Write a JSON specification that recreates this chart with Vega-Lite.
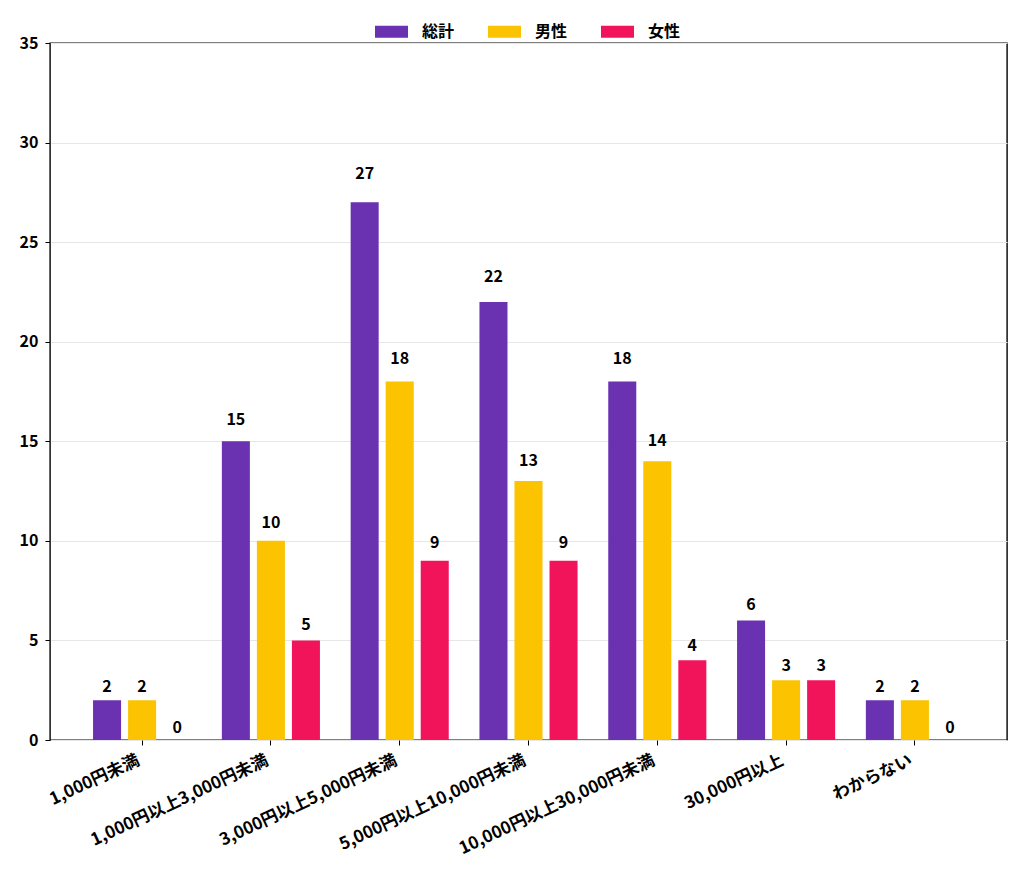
{
  "$schema": "https://vega.github.io/schema/vega-lite/v6.json",
  "width": 957,
  "height": 697,
  "autosize": {"type": "none"},
  "padding": {"left": 50, "top": 43, "right": 18, "bottom": 135},
  "background": "white",
  "config": {
    "font": "Noto Sans CJK JP",
    "view": {"stroke": "black", "strokeWidth": 1.4},
    "axis": {
      "labelFont": "Noto Sans CJK JP",
      "labelFontWeight": "bold",
      "labelFontSize": 16,
      "labelColor": "black",
      "domainColor": "black",
      "domainWidth": 1.2,
      "tickColor": "black",
      "tickSize": 5,
      "title": null
    }
  },
  "data": {
    "values": [
      {"category": "1,000円未満", "series": "総計", "value": 2},
      {"category": "1,000円未満", "series": "男性", "value": 2},
      {"category": "1,000円未満", "series": "女性", "value": 0},
      {"category": "1,000円以上3,000円未満", "series": "総計", "value": 15},
      {"category": "1,000円以上3,000円未満", "series": "男性", "value": 10},
      {"category": "1,000円以上3,000円未満", "series": "女性", "value": 5},
      {"category": "3,000円以上5,000円未満", "series": "総計", "value": 27},
      {"category": "3,000円以上5,000円未満", "series": "男性", "value": 18},
      {"category": "3,000円以上5,000円未満", "series": "女性", "value": 9},
      {"category": "5,000円以上10,000円未満", "series": "総計", "value": 22},
      {"category": "5,000円以上10,000円未満", "series": "男性", "value": 13},
      {"category": "5,000円以上10,000円未満", "series": "女性", "value": 9},
      {"category": "10,000円以上30,000円未満", "series": "総計", "value": 18},
      {"category": "10,000円以上30,000円未満", "series": "男性", "value": 14},
      {"category": "10,000円以上30,000円未満", "series": "女性", "value": 4},
      {"category": "30,000円以上", "series": "総計", "value": 6},
      {"category": "30,000円以上", "series": "男性", "value": 3},
      {"category": "30,000円以上", "series": "女性", "value": 3},
      {"category": "わからない", "series": "総計", "value": 2},
      {"category": "わからない", "series": "男性", "value": 2},
      {"category": "わからない", "series": "女性", "value": 0}
    ]
  },
  "encoding": {
    "x": {
      "field": "category",
      "type": "nominal",
      "sort": null,
      "scale": {"paddingInner": 0.184, "paddingOuter": 0.307},
      "axis": {"labelAngle": -25, "labelAlign": "right", "labelBaseline": "top", "labelPadding": 7, "labelOffset": -7, "labelFontSize": 17, "labelLimit": 0, "domain": false}
    },
    "xOffset": {
      "field": "series",
      "type": "nominal",
      "sort": ["総計", "男性", "女性"],
      "scale": {"paddingInner": 0.2, "paddingOuter": 0.1}
    }
  },
  "layer": [
    {
      "mark": {"type": "bar"},
      "encoding": {
        "y": {
          "field": "value",
          "type": "quantitative",
          "scale": {"domain": [0, 35], "nice": false},
          "axis": {"values": [0, 5, 10, 15, 20, 25, 30, 35], "grid": true, "gridColor": "#e6e6e6", "gridWidth": 1, "labelPadding": 7, "domain": false}
        },
        "color": {
          "field": "series",
          "type": "nominal",
          "sort": ["総計", "男性", "女性"],
          "scale": {"domain": ["総計", "男性", "女性"], "range": ["#6a31b0", "#fbc300", "#f2145a"]},
          "legend": {
            "title": null,
            "orient": "none",
            "direction": "horizontal",
            "legendX": 325,
            "legendY": -28,
            "symbolType": "M-1,-0.36H1V0.36H-1Z",
            "symbolSize": 1089,
            "symbolStrokeWidth": 0,
            "labelFont": "Noto Sans CJK JP",
            "labelFontWeight": "bold",
            "labelFontSize": 16,
            "labelColor": "black",
            "labelOffset": 14,
            "columnPadding": 33
          }
        }
      }
    },
    {
      "mark": {"type": "text", "fontWeight": "bold", "fontSize": 16, "baseline": "alphabetic", "color": "black"},
      "encoding": {
        "y": {
          "field": "value",
          "type": "quantitative",
          "scale": {"domain": [-0.34, 33.64], "nice": false, "zero": false},
          "axis": null
        },
        "text": {"field": "value", "type": "quantitative"}
      }
    }
  ],
  "resolve": {"scale": {"y": "independent"}}
}
